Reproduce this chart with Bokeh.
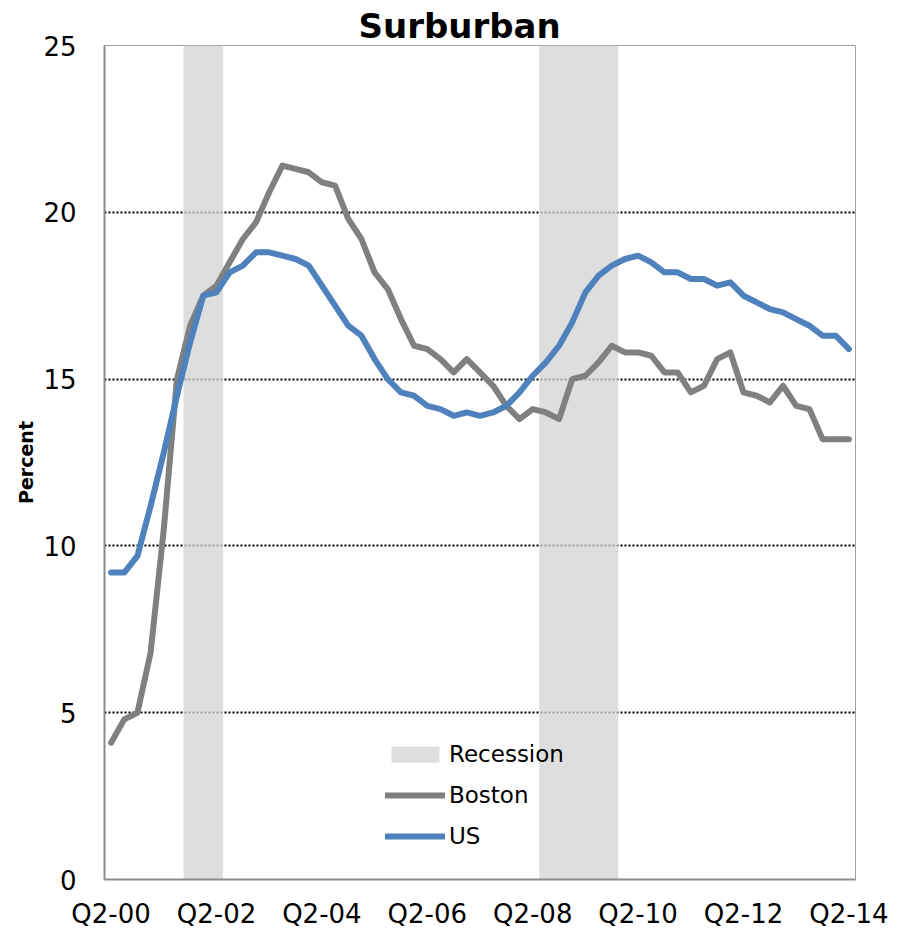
from bokeh.plotting import figure
from bokeh.models import Range1d, FixedTicker, Legend, LegendItem
from bokeh.embed import file_html
from bokeh.resources import INLINE

# ---- data ----
boston = [4.1, 4.8, 5.0, 6.8, 10.5, 15.0, 16.6, 17.5, 17.8, 18.5,
          19.2, 19.7, 20.6, 21.4, 21.3, 21.2, 20.9, 20.8, 19.8, 19.2,
          18.2, 17.7, 16.8, 16.0, 15.9, 15.6, 15.2, 15.6, 15.2, 14.8,
          14.2, 13.8, 14.1, 14.0, 13.8, 15.0, 15.1, 15.5, 16.0, 15.8,
          15.8, 15.7, 15.2, 15.2, 14.6, 14.8, 15.6, 15.8, 14.6, 14.5,
          14.3, 14.8, 14.2, 14.1, 13.2, 13.2, 13.2]
us = [9.2, 9.2, 9.7, 11.2, 12.8, 14.5, 16.1, 17.5, 17.6, 18.2,
      18.4, 18.8, 18.8, 18.7, 18.6, 18.4, 17.8, 17.2, 16.6, 16.3,
      15.6, 15.0, 14.6, 14.5, 14.2, 14.1, 13.9, 14.0, 13.9, 14.0,
      14.2, 14.6, 15.1, 15.5, 16.0, 16.7, 17.6, 18.1, 18.4, 18.6,
      18.7, 18.5, 18.2, 18.2, 18.0, 18.0, 17.8, 17.9, 17.5, 17.3,
      17.1, 17.0, 16.8, 16.6, 16.3, 16.3, 15.9]
tick_labels = ["Q2-00", "Q2-02", "Q2-04", "Q2-06", "Q2-08", "Q2-10", "Q2-12", "Q2-14"]
recession_quarters = ["Q4-01", "Q1-02", "Q2-02",
                      "Q3-08", "Q4-08", "Q1-09", "Q2-09", "Q3-09", "Q4-09"]
y_ticks = [0, 5, 10, 15, 20, 25]

quarters = []
for k in range(len(boston)):
    qn = (1 + k) % 4 + 1
    yr = 2000 + (1 + k) // 4
    quarters.append(f"Q{qn}-{yr % 100:02d}")
xs = list(range(len(quarters)))

# recession runs
rec_idx = sorted(quarters.index(q) for q in recession_quarters)
runs = []
for i in rec_idx:
    if runs and i == runs[-1][1] + 1:
        runs[-1][1] = i
    else:
        runs.append([i, i])
rec_left = [a - 0.5 for a, b in runs]
rec_right = [b + 0.5 for a, b in runs]

FONT = "DejaVu Sans"

p = figure(width=911, height=931,
           x_range=Range1d(-0.5, len(quarters) - 0.5),
           y_range=Range1d(0, 25),
           output_backend="svg", toolbar_location=None,
           min_border_left=104, min_border_right=56,
           min_border_top=45, min_border_bottom=51)
p.background_fill_color = "white"
p.border_fill_color = "white"
p.outline_line_color = "#A0A0A0"
p.outline_line_width = 1

band = p.quad(left=rec_left, right=rec_right, bottom=0, top=25,
              fill_color="#D3D3D3", fill_alpha=0.75, line_color=None)
rb = p.line(xs, boston, line_color="#808080", line_width=6,
            line_join="round", line_cap="round")
ru = p.line(xs, us, line_color="#4F81BD", line_width=6,
            line_join="round", line_cap="round")

# title
p.title.text = "Surburban"
p.title.text_font = FONT
p.title.text_font_size = "34px"
p.title.text_font_style = "bold"
p.title.text_color = "black"
p.title.align = "left"
p.title.offset = 254
p.title.standoff = 0

# axes
p.xaxis.ticker = FixedTicker(ticks=[quarters.index(t) for t in tick_labels])
p.xaxis.major_label_overrides = {quarters.index(t): t for t in tick_labels}
p.yaxis.ticker = FixedTicker(ticks=y_ticks)
for ax in (p.xaxis, p.yaxis):
    ax.major_tick_line_color = None
    ax.minor_tick_line_color = None
    ax.axis_line_color = "#8C8C8C"
    ax.axis_line_width = 2
    ax.major_label_text_font = FONT
    ax.major_label_text_font_size = "26px"
    ax.major_label_text_color = "black"
p.xaxis.major_label_standoff = 13
p.yaxis.major_label_standoff = 22
p.yaxis.axis_label = "Percent"
p.yaxis.axis_label_text_font = FONT
p.yaxis.axis_label_text_font_size = "19px"
p.yaxis.axis_label_text_font_style = "bold"
p.yaxis.axis_label_text_color = "black"
p.yaxis.axis_label_standoff = 3

p.xgrid.grid_line_color = None
p.ygrid.ticker = FixedTicker(ticks=[5, 10, 15, 20])
p.ygrid.grid_line_color = "black"
p.ygrid.grid_line_width = 2
p.ygrid.grid_line_dash = "2 2"

# legend
legend = Legend(items=[LegendItem(label="Recession", renderers=[band]),
                       LegendItem(label="Boston", renderers=[rb]),
                       LegendItem(label="US", renderers=[ru])],
                location=(281, 30), glyph_width=60, glyph_height=20,
                label_text_font=FONT, label_text_font_size="23px",
                label_text_color="black",
                label_standoff=4, spacing=15, padding=0, margin=0,
                background_fill_alpha=0, border_line_color=None)
p.add_layout(legend)

open("out.html", "w").write(file_html(p, INLINE))
